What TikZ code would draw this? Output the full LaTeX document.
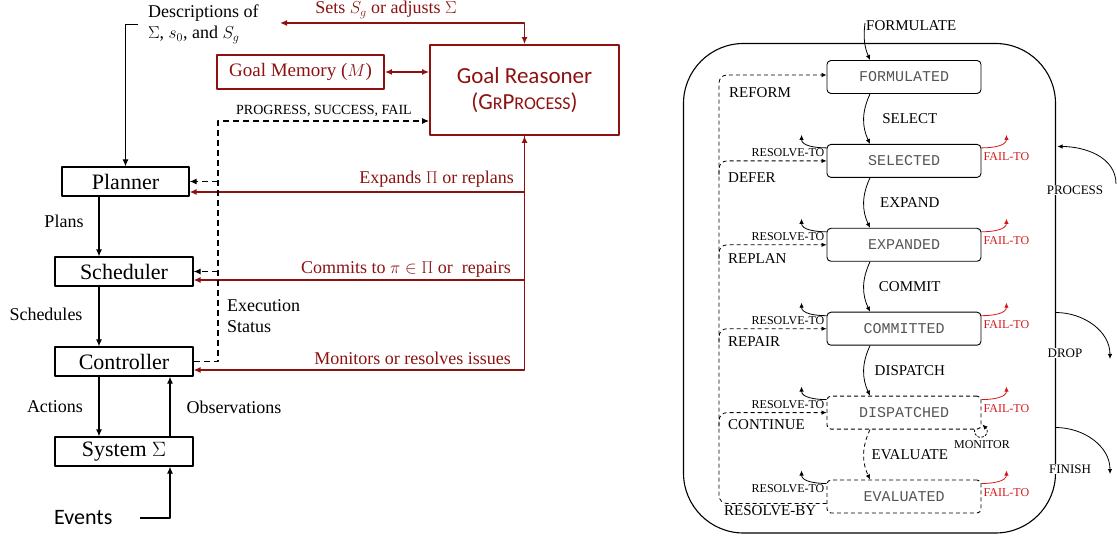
\documentclass[tikz,border=0pt]{standalone}
\usepackage{fontspec}
\setmainfont{Liberation Serif}
\setmonofont{Liberation Mono}
\newfontfamily\calibri{Carlito}
\usetikzlibrary{arrows.meta,positioning,calc}
\definecolor{grred}{RGB}{140,18,18}
\definecolor{failred}{RGB}{212,24,24}
\definecolor{stategray}{RGB}{85,85,85}
\newcommand{\fsz}[1]{\fontsize{#1}{#1}\selectfont}
\newcommand{\gsc}[1]{{\fontsize{18}{26}\selectfont #1}}

\tikzset{
  blk/.style={draw, line width=1.2pt, inner sep=0pt, font=\fsz{22}},
  rbox/.style={draw=grred, line width=1.8pt, text=grred, inner sep=0pt},
  arr/.style={line width=1.2pt, ->},
  rarr/.style={grred, line width=1.8pt},
  dsh/.style={line width=1.2pt, dash pattern=on 6pt off 4pt},
  lbl/.style={font=\fsz{18}, inner sep=0pt},
  rlbl/.style={font=\fsz{18}, text=grred, inner sep=0pt},
  gstate/.style={draw, rounded corners=4pt, line width=0.9pt, minimum width=154pt,
    minimum height=33pt, font=\ttfamily\fsz{15}, text=stategray},
  dstate/.style={gstate, dash pattern=on 4pt off 3pt},
  sarr/.style={line width=0.8pt, -{Latex[length=5pt,width=4.5pt]}},
  dsh2/.style={line width=0.8pt, dash pattern=on 4pt off 3pt},
  tlbl/.style={font=\fsz{15}, inner sep=1pt},
  slbl/.style={font=\fsz{12}, inner sep=1pt},
}

\begin{document}
\begin{tikzpicture}[x=1pt, y=-1pt, >={Latex[length=7pt,width=6pt]}, line join=round]
\useasboundingbox (0,0) rectangle (1117,537);

% architecture
\node[blk, minimum width=127pt, minimum height=29pt] (planner) at (125.5,181.5) {Planner};
\node[blk, minimum width=138pt, minimum height=29pt] (scheduler) at (124,271.5) {Scheduler};
\node[blk, minimum width=138pt, minimum height=29pt] (controller) at (124,361.5) {Controller};
\node[blk, minimum width=138pt, minimum height=29pt] (system) at (124,451.5) {System $\Sigma$};
\node[font=\calibri\fsz{22}, anchor=west, inner sep=0pt] (events) at (54,518) {Events};
\node[lbl, align=left, anchor=north west, font=\fontsize{18}{21}\selectfont] (desc) at (148,5)
  {Descriptions of\\$\Sigma$, $s_0$, and $S_g$};

\coordinate (lx) at (99,0);
\coordinate (rx) at (170,0);
\coordinate (stat) at (218,0);

\draw[arr] ([xshift=-10pt]desc.west) -| (planner.north);
\draw[arr] (planner.south -| lx) -- (scheduler.north -| lx);
\draw[arr] (scheduler.south -| lx) -- (controller.north -| lx);
\draw[arr] (controller.south -| lx) -- (system.north -| lx);
\draw[arr] (system.north -| rx) -- (controller.south -| rx);
\draw[arr] ([xshift=27pt]events.east) -| (system.south -| rx);

\node[lbl] (plans) at (64,221) {Plans};
\node[lbl] (schedules) at (46,314) {Schedules};
\node[lbl] (actions) at (55,407) {Actions};
\node[lbl] (obs) at (234,407) {Observations};
\node[lbl, align=left, anchor=west, font=\fontsize{18}{21}\selectfont] (exec) at (227,316) {Execution\\Status};

% goal reasoner
\node[rbox, minimum width=189pt, minimum height=90pt, align=center,
  font=\calibri\fontsize{23}{26}\selectfont] (gr) at (524.5,90)
  {Goal Reasoner\\(G\gsc{R}P\gsc{ROCESS})};
\node[rbox, minimum width=167pt, minimum height=34pt, font=\fsz{19}] (gm) at (300.5,72) {Goal Memory ($M$)};
\draw[rarr, <->] (gm.east) -- (gm.east -| gr.west);

\node[rlbl] (sets) at (386,10) {Sets $S_g$ or adjusts $\Sigma$};
\coordinate (setend) at (280,23);
\draw[rarr, <->] (setend) -| (gr.north);

\draw[rarr, ->] (gr.south) |- ([yshift=-10.5pt]planner.east);
\draw[rarr, ->] (gr.south) |- ([yshift=-8.5pt]scheduler.east);
\draw[rarr, <->] (gr.south) |- ([yshift=-8.5pt]controller.east);
\node[rlbl, anchor=east] (expands) at (514,179) {Expands $\Pi$ or replans};
\node[rlbl, anchor=east] (commits) at (511,269) {Commits to $\pi\in\Pi$ or\ \ repairs};
\node[rlbl, anchor=east] (monitors) at (511,358) {Monitors or resolves issues};

% execution status
\draw[dsh, ->] (controller.east) -| ($(gr.west -| stat)+(0,31)$) -- ($(gr.west)+(0,31)$);
\draw[dsh, ->] (planner.east -| stat) -- (planner.east);
\draw[dsh, ->] (scheduler.east -| stat) -- (scheduler.east);
\node[lbl, font=\fsz{14}] (pgs) at (324,111) {PROGRESS, SUCCESS, FAIL};

% goal lifecycle
\coordinate (lifenw) at (683.5,43.5);
\coordinate (lifese) at (1055.5,533);
\draw[line width=1.1pt, rounded corners=60pt] (lifenw) rectangle (lifese);
\coordinate (rim) at (1055.5,43.5);

\node[gstate] (formulated) at (904,77) {FORMULATED};
\node[gstate, below=50pt of formulated] (selected) {SELECTED};
\node[gstate, below=50pt of selected] (expanded) {EXPANDED};
\node[gstate, below=50pt of expanded] (committed) {COMMITTED};
\node[dstate, below=50pt of committed] (dispatched) {DISPATCHED};
\node[dstate, below=50pt of dispatched] (evaluated) {EVALUATED};

\node[tlbl, anchor=west] (formulate) at (865,26) {FORMULATE};
\draw[sarr] ([yshift=3pt]formulate.west) to[bend right=15] ([xshift=-34pt]formulated.north);
\foreach \a/\b/\t in {formulated/selected/SELECT, selected/expanded/EXPAND,
    expanded/committed/COMMIT, committed/dispatched/DISPATCH}
  \draw[sarr] ([xshift=-34pt]\a.south) to[bend right=25] node[tlbl, xshift=46pt] (t-\b) {\t} ([xshift=-34pt]\b.north);
\draw[sarr, dsh2] ([xshift=-34pt]dispatched.south) to[bend right=25] node[tlbl, xshift=46pt] (t-evaluated) {EVALUATE} ([xshift=-34pt]evaluated.north);

% resolve strategies
\coordinate (lane) at (719,300);
\draw[sarr, dsh2, rounded corners=8pt] ([yshift=-7pt]evaluated.west) -| (lane) |- ([yshift=2pt]formulated.west);
\node[tlbl, anchor=west] (resolveby) at (723,511) {RESOLVE-BY};
\node[tlbl, anchor=west] (reform) at (728,93) {REFORM};
\foreach \s/\t/\d in {selected/DEFER/17, expanded/REPLAN/14, committed/REPAIR/13, dispatched/CONTINUE/12}{
  \draw[sarr, dsh2, rounded corners=8pt] ($(\s.west -| lane)+(0,14)$) |- (\s.west);
  \node[tlbl, anchor=west] (lb-\s) at ($(\s.west -| lane)+(8,\d)$) {\t};
}
\foreach \s in {selected,expanded,committed,dispatched,evaluated}{
  \node[slbl, anchor=east] (rt-\s) at ($(\s.west)+(-1,-8)$) {RESOLVE-TO};
  \draw[sarr] ($(\s.west)+(0,-13)$) to[out=180,in=-90] ++(-25,-13);
  \node[slbl, anchor=west, text=failred] (ft-\s) at ($(\s.east)+(1,-4)$) {FAIL-TO};
  \draw[sarr, failred] ($(\s.east)+(0,-13)$) to[out=0,in=-90] ++(25,-13);
}
\draw[sarr, dash pattern=on 2.5pt off 1.5pt] ($(dispatched.south east)+(-7,0)$) to[out=-90,in=-45,looseness=4] ($(dispatched.south east)+(1,-5)$);
\node[slbl] (monitor) at (982,445) {MONITOR};

% process, drop, finish
\node[tlbl, font=\fsz{13}, fill=white] (process) at (1075,190) {PROCESS};
\node[tlbl, font=\fsz{13}, fill=white] (drop) at (1065,353) {DROP};
\node[tlbl, font=\fsz{13}, fill=white] (finish) at (1070,469) {FINISH};
\coordinate (procin) at (1116,184);
\coordinate (dropout) at (1110,359);
\coordinate (finout) at (1110,474);
\draw[sarr] (procin) to[out=90,in=0] ($(rim)+(2,103)$);
\draw[sarr] ($(rim)+(0,269)$) to[out=0,in=90] (dropout);
\draw[sarr] ($(rim)+(0,384)$) to[out=0,in=90] (finout);
\end{tikzpicture}
\end{document}
